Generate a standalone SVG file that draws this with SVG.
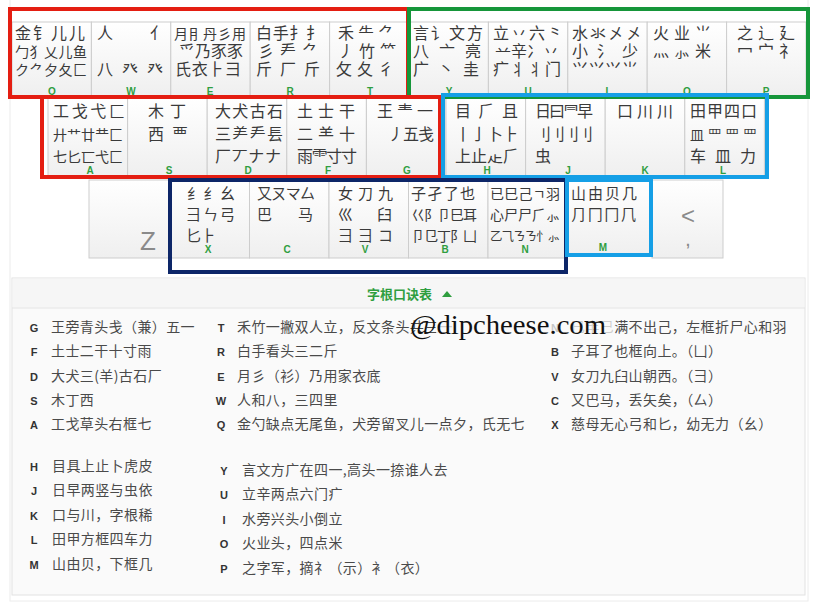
<svg xmlns="http://www.w3.org/2000/svg" width="816" height="606" viewBox="0 0 816 606">
<defs>
<linearGradient id="kg" x1="0" y1="0" x2="0" y2="1">
<stop offset="0" stop-color="#ffffff"/><stop offset="1" stop-color="#efefef"/>
</linearGradient>
</defs>
<style>
.k{fill:url(#kg);stroke:#cdcdcd;stroke-width:1}
.r{font-family:"Noto Sans CJK SC","Noto Sans CJK JP",sans-serif;font-size:16px;fill:#3a3a3a}
.r5{font-size:14px}
.r3{font-size:15px}
.r6{font-size:12.5px}
.lb{font-family:"Liberation Sans",Arial,sans-serif;font-size:10px;font-weight:bold;fill:#2f9e3f;text-anchor:middle}
.big{font-family:"Liberation Sans",Arial,sans-serif;fill:#8a8a8a;text-anchor:middle}
.box{fill:none;stroke-width:4}
.t{font-family:"Noto Sans CJK SC",sans-serif;font-size:14px;fill:#4a4a4a;letter-spacing:0.4px}
.l{font-family:"Liberation Sans",Arial,sans-serif;font-size:11px;font-weight:bold;fill:#333;text-anchor:middle}
</style>
<rect x="0" y="0" width="816" height="606" fill="#ffffff"/>
<rect x="10" y="-2" width="798" height="603" fill="none" stroke="#ececec"/>

<!-- Row 1 -->
<rect x="12" y="10" width="794" height="12" fill="#ffffff"/>
<g id="key-Q"><rect class="k" x="12" y="22" width="79.4" height="74"/>
<text class="r"><tspan x="15" y="39" textLength="70" lengthAdjust="spacing">金钅儿儿</tspan><tspan class="r5" x="15" y="57" textLength="72" lengthAdjust="spacing">勹犭乂儿鱼</tspan><tspan class="r5" x="15" y="75" textLength="72" lengthAdjust="spacing">ク⺈夕夂匚</tspan></text>
<text class="lb" x="52" y="95">Q</text></g>
<g id="key-W"><rect class="k" x="91.4" y="22" width="79.4" height="74"/>
<text class="r"><tspan x="97" y="39">人</tspan><tspan x="150" y="39">亻</tspan><tspan x="97" y="75" textLength="66" lengthAdjust="spacing">八癶癶</tspan></text>
<text class="lb" x="131" y="95">W</text></g>
<g id="key-E"><rect class="k" x="170.8" y="22" width="79.4" height="74"/>
<text class="r"><tspan class="r5" x="174" y="39" textLength="72" lengthAdjust="spacing">月⺝丹彡用</tspan><tspan x="179" y="57" textLength="64" lengthAdjust="spacing">爫乃豕豕</tspan><tspan x="175" y="75" textLength="66" lengthAdjust="spacing">氏衣⺊⺕</tspan></text>
<text class="lb" x="210" y="95">E</text></g>
<g id="key-R"><rect class="k" x="250.2" y="22" width="79.4" height="74"/>
<text class="r"><tspan x="256" y="39" textLength="66" lengthAdjust="spacing">白手扌扌</tspan><tspan x="258" y="57" textLength="60" lengthAdjust="spacing">彡龵⺈</tspan><tspan x="256" y="75" textLength="64" lengthAdjust="spacing">斤厂斤</tspan></text>
<text class="lb" x="290" y="95">R</text></g>
<g id="key-T"><rect class="k" x="329.6" y="22" width="79.4" height="74"/>
<text class="r"><tspan x="338" y="39" textLength="56" lengthAdjust="spacing">禾⺧⺈</tspan><tspan x="338" y="57" textLength="58" lengthAdjust="spacing">丿竹⺮</tspan><tspan x="336" y="75" textLength="58" lengthAdjust="spacing">攵夂彳</tspan></text>
<text class="lb" x="370" y="95">T</text></g>
<g id="key-Y"><rect class="k" x="409" y="22" width="79.4" height="74"/>
<text class="r"><tspan x="413" y="39" textLength="70" lengthAdjust="spacing">言讠文方</tspan><tspan x="413" y="57" textLength="68" lengthAdjust="spacing">八亠亮</tspan><tspan x="413" y="75" textLength="66" lengthAdjust="spacing">广丶圭</tspan></text>
<text class="lb" x="449" y="95">Y</text></g>
<g id="key-U"><rect class="k" x="488.4" y="22" width="79.4" height="74"/>
<text class="r"><tspan x="493" y="39" textLength="70" lengthAdjust="spacing">立丷六⺀</tspan><tspan x="495" y="57" textLength="64" lengthAdjust="spacing">䒑辛冫丷</tspan><tspan x="493" y="75" textLength="68" lengthAdjust="spacing">疒丬⺦门</tspan></text>
<text class="lb" x="528" y="95">U</text></g>
<g id="key-I"><rect class="k" x="567.8" y="22" width="79.4" height="74"/>
<text class="r"><tspan x="572" y="39" textLength="70" lengthAdjust="spacing">水氺㐅㐅</tspan><tspan x="572" y="57" textLength="66" lengthAdjust="spacing">小⺡少</tspan><tspan x="572" y="75" textLength="66" lengthAdjust="spacing">⺍⺍⺍⺌</tspan></text>
<text class="lb" x="607" y="95">I</text></g>
<g id="key-O"><rect class="k" x="647.2" y="22" width="79.4" height="74"/>
<text class="r"><tspan x="653" y="39" textLength="58" lengthAdjust="spacing">火业⺌</tspan><tspan x="653" y="57" textLength="58" lengthAdjust="spacing">灬⺗米</tspan></text>
<text class="lb" x="687" y="95">O</text></g>
<g id="key-P"><rect class="k" x="726.6" y="22" width="79.4" height="74"/>
<text class="r"><tspan x="737" y="39" textLength="58" lengthAdjust="spacing">之辶廴</tspan><tspan x="737" y="57" textLength="58" lengthAdjust="spacing">冖宀礻</tspan></text>
<text class="lb" x="766" y="95">P</text></g>

<!-- Row 2 -->
<g id="key-A"><rect class="k" x="48" y="98" width="79.6" height="78"/>
<text class="r"><tspan x="53" y="117" textLength="72" lengthAdjust="spacing">工戈弋匚</tspan><tspan class="r5" x="53" y="140" textLength="70" lengthAdjust="spacing">廾艹廿龷匚</tspan><tspan class="r5" x="53" y="162" textLength="70" lengthAdjust="spacing">七⼔⼖弋⼕</tspan></text>
<text class="lb" x="90" y="174">A</text></g>
<g id="key-S"><rect class="k" x="127.6" y="98" width="79.6" height="78"/>
<text class="r"><tspan x="148" y="117">木</tspan><tspan x="170" y="117">丁</tspan><tspan x="148" y="140">西</tspan><tspan x="172" y="140">覀</tspan></text>
<text class="lb" x="169" y="174">S</text></g>
<g id="key-D"><rect class="k" x="207.2" y="98" width="79.6" height="78"/>
<text class="r"><tspan x="215" y="117" textLength="68" lengthAdjust="spacing">大犬古石</tspan><tspan x="215" y="140" textLength="68" lengthAdjust="spacing">三⺶龵镸</tspan><tspan x="215" y="162" textLength="66" lengthAdjust="spacing">厂丆ナナ</tspan></text>
<text class="lb" x="248" y="174">D</text></g>
<g id="key-F"><rect class="k" x="286.8" y="98" width="79.6" height="78"/>
<text class="r"><tspan x="297" y="117" textLength="58" lengthAdjust="spacing">土士干</tspan><tspan x="297" y="140" textLength="58" lengthAdjust="spacing">二⺷十</tspan><tspan x="297" y="162" textLength="60" lengthAdjust="spacing">雨⻗寸寸</tspan></text>
<text class="lb" x="328" y="174">F</text></g>
<g id="key-G"><rect class="k" x="366.4" y="98" width="79.6" height="78"/>
<text class="r"><tspan x="377" y="117" textLength="56" lengthAdjust="spacing">王龶一</tspan><tspan x="388" y="140" textLength="46" lengthAdjust="spacing">丿五戋</tspan></text>
<text class="lb" x="407" y="174">G</text></g>
<g id="key-H"><rect class="k" x="446" y="98" width="79.6" height="78"/>
<text class="r"><tspan x="455" y="117" textLength="63" lengthAdjust="spacing">目⺁且</tspan><tspan x="455" y="140" textLength="64" lengthAdjust="spacing">丨亅卜⺊</tspan><tspan x="455" y="162" textLength="64" lengthAdjust="spacing">上止龰⺁</tspan></text>
<text class="lb" x="487" y="174">H</text></g>
<g id="key-J"><rect class="k" x="525.6" y="98" width="79.6" height="78"/>
<text class="r"><tspan x="535" y="117" textLength="58" lengthAdjust="spacing">日曰⺜早</tspan><tspan x="535" y="140" textLength="58" lengthAdjust="spacing">⺉⺉刂刂</tspan><tspan x="535" y="162">虫</tspan></text>
<text class="lb" x="568" y="174">J</text></g>
<g id="key-K"><rect class="k" x="605.2" y="98" width="79.6" height="78"/>
<text class="r" x="617" y="117" textLength="56" lengthAdjust="spacing">口川川</text>
<text class="lb" x="645" y="174">K</text></g>
<g id="key-L"><rect class="k" x="684.8" y="98" width="79.6" height="78"/>
<text class="r"><tspan x="690" y="117" textLength="67" lengthAdjust="spacing">田甲四口</tspan><tspan class="r5" x="690" y="140" textLength="67" lengthAdjust="spacing">皿罒罒罒</tspan><tspan x="690" y="162" textLength="66" lengthAdjust="spacing">车皿力</tspan></text>
<text class="lb" x="723" y="174">L</text></g>

<!-- Row 3 -->
<g id="key-Z"><rect class="k" x="89" y="180" width="81" height="78"/>
<text class="big" x="148" y="250" font-size="26">Z</text></g>
<g id="key-X"><rect class="k" x="170" y="180" width="79.5" height="78"/>
<text class="r r3"><tspan x="187" y="199" textLength="48" lengthAdjust="spacing">纟⺰幺</tspan><tspan x="186" y="220" textLength="49" lengthAdjust="spacing">⺕ㄣ弓</tspan><tspan x="186" y="241" textLength="30" lengthAdjust="spacing">匕⺊</tspan></text>
<text class="lb" x="208" y="253">X</text></g>
<g id="key-C"><rect class="k" x="249.5" y="180" width="79.5" height="78"/>
<text class="r r3"><tspan x="257" y="199" textLength="58" lengthAdjust="spacing">又ㄡマ厶</tspan><tspan x="257" y="220">巴</tspan><tspan x="298" y="220">马</tspan></text>
<text class="lb" x="287" y="253">C</text></g>
<g id="key-V"><rect class="k" x="329" y="180" width="79.5" height="78"/>
<text class="r r3"><tspan x="338" y="199" textLength="55" lengthAdjust="spacing">女刀九</tspan><tspan x="338" y="220">巛</tspan><tspan x="377" y="220">臼</tspan><tspan x="338" y="241" textLength="55" lengthAdjust="spacing">彐⺕コ</tspan></text>
<text class="lb" x="365" y="253">V</text></g>
<g id="key-B"><rect class="k" x="408.5" y="180" width="79.5" height="78"/>
<text class="r r3"><tspan x="411" y="199" textLength="64" lengthAdjust="spacing">子孑了也</tspan><tspan class="r5" x="411" y="220" textLength="66" lengthAdjust="spacing">巜阝卩巳耳</tspan><tspan class="r5" x="411" y="241" textLength="66" lengthAdjust="spacing">卩⺋丁阝凵</tspan></text>
<text class="lb" x="445" y="253">B</text></g>
<g id="key-N"><rect class="k" x="488" y="180" width="79.5" height="78"/>
<text class="r r5"><tspan x="490" y="199" textLength="70" lengthAdjust="spacing">已巳己ㄱ羽</tspan><tspan x="490" y="220" textLength="70" lengthAdjust="spacing">心尸尸⺁⺗</tspan><tspan class="r6" x="490" y="241" textLength="70" lengthAdjust="spacing">乙⺄ㄋㄋ⺖⺗</tspan></text>
<text class="lb" x="525" y="253">N</text></g>
<g id="key-M"><rect class="k" x="567.5" y="180" width="83" height="76"/>
<text class="r r3"><tspan x="571" y="199" textLength="66" lengthAdjust="spacing">山由贝几</tspan><tspan x="571" y="220" textLength="65" lengthAdjust="spacing">⺆冂冂⺇</tspan></text>
<text class="lb" x="603" y="251">M</text></g>
<g id="key-comma"><rect class="k" x="652" y="180" width="71" height="78"/>
<text class="big" font-size="24"><tspan x="688" y="224">&lt;</tspan><tspan x="688" y="246" font-size="14" font-weight="bold">,</tspan></text></g>

<!-- group outlines -->
<g id="groups">
<rect class="box" x="10" y="9" width="398" height="88" stroke="#e41e12"/>
<rect class="box" x="409" y="9" width="399" height="88" stroke="#16963a"/>
<rect class="box" x="42" y="97" width="398" height="80" stroke="#e41e12"/>
<rect class="box" x="443" y="95" width="324" height="82" stroke="#159fe6"/>
<rect class="box" x="170" y="180" width="396" height="92" stroke="#0d2668"/>
<rect class="box" x="567" y="180" width="84" height="75" stroke="#159fe6"/>
</g>
<g id="connectors"/>

<!-- mnemonic panel -->
<g id="panel">
<rect x="12" y="278" width="793" height="317" fill="#fafafa" stroke="#e2e2e2"/>
<rect x="12.5" y="278.5" width="792" height="29" fill="#f6f6f6"/>
<line x1="12" y1="308" x2="805" y2="308" stroke="#e4e4e4"/>
<text x="367" y="299" font-family="Noto Sans CJK SC,sans-serif" font-size="13" fill="#2f9e3f" font-weight="bold">字根口诀表</text>
<path d="M442 297 L447 291 L452 297 Z" fill="#2f9e3f"/>

<g id="col1a">
<text class="l" x="34" y="332">G</text><text class="t" x="51" y="332">王旁青头戋（兼）五一</text>
<text class="l" x="34" y="356">F</text><text class="t" x="51" y="356">土士二干十寸雨</text>
<text class="l" x="34" y="381">D</text><text class="t" x="51" y="381">大犬三(羊)古石厂</text>
<text class="l" x="34" y="405">S</text><text class="t" x="51" y="405">木丁西</text>
<text class="l" x="34" y="429">A</text><text class="t" x="51" y="429">工戈草头右框七</text>
</g>
<g id="col1b">
<text class="l" x="34" y="471">H</text><text class="t" x="52" y="471">目具上止卜虎皮</text>
<text class="l" x="34" y="495">J</text><text class="t" x="52" y="495">日早两竖与虫依</text>
<text class="l" x="34" y="520">K</text><text class="t" x="52" y="520">口与川，字根稀</text>
<text class="l" x="34" y="544">L</text><text class="t" x="52" y="544">田甲方框四车力</text>
<text class="l" x="34" y="569">M</text><text class="t" x="52" y="569">山由贝，下框几</text>
</g>
<g id="col2a">
<text class="l" x="221" y="332">T</text><text class="t" x="237" y="332">禾竹一撇双人立，反文条头共三一</text>
<text class="l" x="221" y="356">R</text><text class="t" x="237" y="356">白手看头三二斤</text>
<text class="l" x="221" y="381">E</text><text class="t" x="237" y="381">月彡（衫）乃用家衣底</text>
<text class="l" x="221" y="405">W</text><text class="t" x="237" y="405">人和八，三四里</text>
<text class="l" x="221" y="429">Q</text><text class="t" x="237" y="429">金勺缺点无尾鱼，犬旁留叉儿一点夕，氏无七</text>
</g>
<g id="col2b">
<text class="l" x="224" y="475">Y</text><text class="t" x="242" y="475">言文方广在四一,高头一捺谁人去</text>
<text class="l" x="224" y="499">U</text><text class="t" x="242" y="499">立辛两点六门疒</text>
<text class="l" x="224" y="524">I</text><text class="t" x="242" y="524">水旁兴头小倒立</text>
<text class="l" x="224" y="548">O</text><text class="t" x="242" y="548">火业头，四点米</text>
<text class="l" x="224" y="573">P</text><text class="t" x="242" y="573">之字军，摘礻（示）衤（衣）</text>
</g>
<g id="col3">
<text class="l" x="555" y="332">N</text><text class="t" x="571" y="332">已半巳满不出己，左框折尸心和羽</text>
<text class="l" x="555" y="356">B</text><text class="t" x="571" y="356">子耳了也框向上。（凵）</text>
<text class="l" x="555" y="381">V</text><text class="t" x="571" y="381">女刀九臼山朝西。（彐）</text>
<text class="l" x="555" y="405">C</text><text class="t" x="571" y="405">又巴马，丢矢矣，（厶）</text>
<text class="l" x="555" y="429">X</text><text class="t" x="571" y="429">慈母无心弓和匕，幼无力（幺）</text>
</g>
</g>

<g id="watermark">
<rect x="436" y="314" width="178" height="26" fill="#fafafa" opacity="0.75"/>
<text x="410" y="334" font-family="Liberation Serif,serif" font-size="27" fill="#111" textLength="196" lengthAdjust="spacingAndGlyphs">@dipcheese.com</text>
</g>
</svg>
